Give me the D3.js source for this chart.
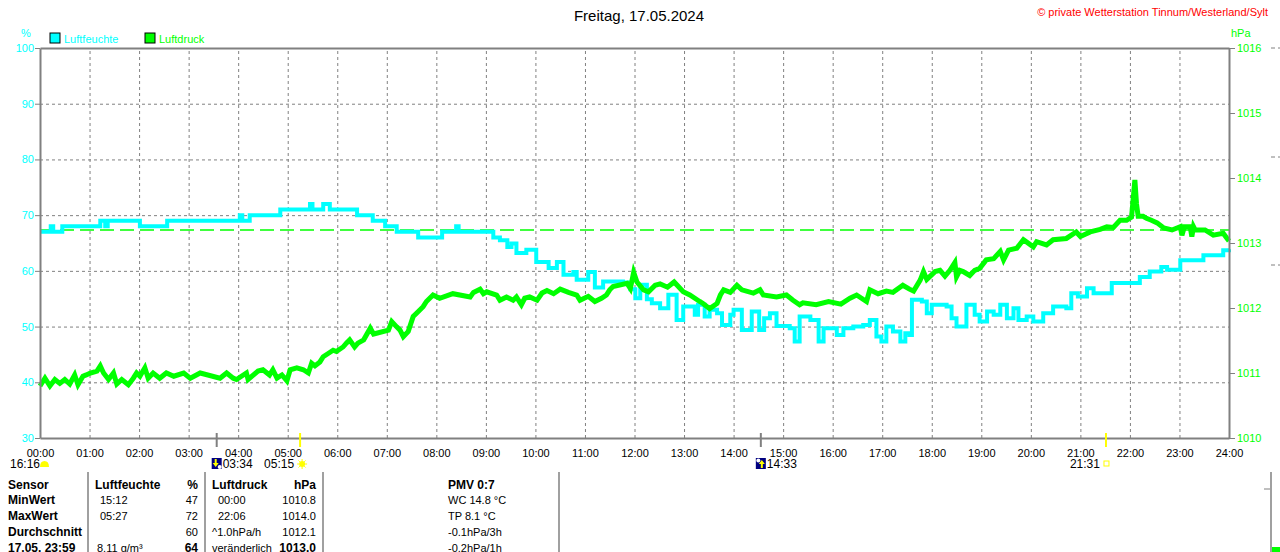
<!DOCTYPE html>
<html>
<head>
<meta charset="utf-8">
<script src="https://cdn.jsdelivr.net/npm/d3@7"></script>
<style>
body { margin: 0; background: #fff; }
svg { font-family: "Liberation Sans", Arial, sans-serif; display: block; }
.grid line { stroke: #808080; stroke-dasharray: 3,3; }
</style>
</head>
<body>
<div id="chart"></div>
<script>
// Luftfeuchte (%) - minutes since midnight / value
var humMinutes = [0, 13, 16, 27, 73, 79, 82, 121, 154, 242, 245, 254, 291, 327, 330, 343, 351, 384, 403, 418, 432, 458, 487, 504, 507, 549,
    557, 566, 571, 577, 589, 601, 616, 626, 634, 646, 650, 664, 672, 682, 706, 715, 721, 727, 735, 741, 751, 761, 771, 779, 793, 797,
    805, 811, 820, 826, 836, 840, 850, 862, 871, 877, 884, 892, 908, 914, 920, 933, 943, 949, 965, 973, 985, 997, 1005, 1013, 1019,
    1025, 1033, 1042, 1048, 1053, 1056, 1068, 1074, 1080, 1098, 1104, 1110, 1122, 1132, 1138, 1147, 1155, 1163, 1171, 1179, 1185,
    1195, 1203, 1215, 1227, 1243, 1249, 1257, 1268, 1276, 1298, 1332, 1344, 1358, 1365, 1381, 1409, 1433, 1440];
var humValues = [67, 68, 67, 68, 69, 68, 69, 68, 69, 70, 69, 70, 71, 72, 71, 72, 71, 70, 69, 68, 67, 66, 67, 68, 67, 66,
    65.5, 64.3, 64.9, 63.2, 63.8, 61.6, 60.5, 61.6, 59.3, 59.8, 58.4, 59.8, 57.0, 58.1, 57.9, 56.7, 55.1, 57.5, 54.9, 54.2, 53.3, 55.7, 51.2, 53.6, 52.1, 53.9,
    51.8, 53.0, 52.4, 50.3, 52.1, 53.0, 49.4, 52.7, 49.4, 51.5, 52.4, 50.1, 49.7, 47.3, 51.8, 51.2, 47.3, 49.7, 48.5, 49.7, 50.0, 50.3, 51.2, 48.2, 47.3,
    50.0, 49.1, 47.3, 48.8, 48.5, 54.8, 54.5, 52.4, 53.9, 53.6, 51.5, 50.0, 53.9, 52.1, 50.9, 52.7, 52.1, 53.9, 51.5, 53.3, 51.2,
    51.8, 50.9, 52.4, 53.6, 53.3, 56.0, 55.4, 56.9, 56.0, 57.8, 58.9, 59.9, 60.7, 60.2, 61.9, 62.8, 63.7, 63.9];

// Luftdruck (hPa)
var presMinutes = [0, 6, 12, 18, 24, 30, 36, 42, 46, 52, 56, 61, 69, 73, 77, 83, 89, 93, 99, 107, 113, 117, 121, 127, 131, 137, 145,
    153, 162, 174, 182, 194, 218, 226, 234, 238, 250, 252, 264, 270, 278, 282, 287, 293, 299, 303, 311, 319, 325, 329, 333, 339, 343,
    349, 355, 359, 367, 371, 375, 381, 385, 392, 400, 404, 422, 426, 432, 436, 440, 446, 452, 456, 464, 468, 476, 484,
    500, 521, 525, 533, 537, 541, 553, 557, 565, 573, 577, 583, 587, 593, 602, 608, 614, 622, 630, 640, 650, 654, 664, 672, 680, 686,
    690, 694, 711, 715, 719, 723, 731, 737, 745, 751, 760, 768, 779, 787, 799, 803, 811, 820, 824, 828, 836, 844, 850, 864, 872, 876,
    892, 904, 912, 920, 924, 940, 955, 970, 981, 989,
    1001, 1005, 1015, 1025, 1033, 1045, 1053, 1058, 1066, 1070, 1074, 1084, 1090, 1096, 1102, 1108, 1110, 1114, 1118, 1126, 1132,
    1138, 1146, 1155, 1163, 1167, 1173, 1183, 1191, 1203, 1207, 1219, 1227, 1243, 1255, 1260, 1272, 1284, 1292, 1300, 1308, 1316,
    1322, 1326, 1328, 1330, 1336, 1340, 1346, 1353, 1361, 1371, 1381, 1383, 1386, 1393, 1395, 1397, 1399, 1411, 1421, 1433, 1437, 1440];
var presValues = [1010.80, 1010.92, 1010.80, 1010.90, 1010.84, 1010.90, 1010.83, 1010.97, 1010.82, 1010.95, 1010.97, 1011.00, 1011.03, 1011.11, 1011.00, 1010.90, 1011.00, 1010.83, 1010.90, 1010.82, 1010.92, 1011.00, 1010.95, 1011.08, 1010.92, 1011.00, 1010.92,
    1011.00, 1010.95, 1011.00, 1010.92, 1011.00, 1010.92, 1011.00, 1010.92, 1010.90, 1011.00, 1010.90, 1011.03, 1011.05, 1010.97, 1011.05, 1010.92, 1010.97, 1010.88, 1011.05, 1011.08, 1011.05, 1011.00, 1011.15, 1011.11, 1011.17, 1011.25,
    1011.30, 1011.35, 1011.33, 1011.40, 1011.46, 1011.51, 1011.40, 1011.46, 1011.51, 1011.69, 1011.60, 1011.66, 1011.79, 1011.71, 1011.66, 1011.56, 1011.64, 1011.87, 1011.92, 1012.02, 1012.10, 1012.20, 1012.15,
    1012.22, 1012.17, 1012.24, 1012.29, 1012.22, 1012.25, 1012.20, 1012.12, 1012.17, 1012.12, 1012.17, 1012.05, 1012.15, 1012.17, 1012.12, 1012.23, 1012.27, 1012.22, 1012.29, 1012.24, 1012.20, 1012.12, 1012.18, 1012.10, 1012.15, 1012.20,
    1012.28, 1012.33, 1012.38, 1012.30, 1012.55, 1012.40, 1012.28, 1012.25, 1012.35, 1012.37, 1012.32, 1012.40, 1012.25, 1012.20, 1012.10, 1012.07, 1011.99, 1012.07, 1012.20, 1012.28, 1012.24, 1012.35, 1012.28, 1012.23, 1012.28, 1012.20,
    1012.17, 1012.20, 1012.12, 1012.05, 1012.08, 1012.05, 1012.10, 1012.06, 1012.15, 1012.20,
    1012.10, 1012.28, 1012.22, 1012.26, 1012.24, 1012.35, 1012.29, 1012.26, 1012.43, 1012.56, 1012.44, 1012.56, 1012.58, 1012.49, 1012.58, 1012.70, 1012.48, 1012.58, 1012.56, 1012.50, 1012.58,
    1012.61, 1012.74, 1012.76, 1012.87, 1012.74, 1012.89, 1012.92, 1013.05, 1012.94, 1013.02, 1012.97, 1013.05, 1013.07, 1013.17, 1013.10, 1013.17, 1013.21, 1013.25, 1013.24, 1013.35, 1013.35,
    1013.40, 1013.97, 1013.60, 1013.41, 1013.41, 1013.38, 1013.35, 1013.31, 1013.23, 1013.20, 1013.25, 1013.12, 1013.25, 1013.25, 1013.10, 1013.25, 1013.20, 1013.20, 1013.12, 1013.15, 1013.08, 1013.03];

var presRef = 1013.2;
var humTicks = [30, 40, 50, 60, 70, 80, 90, 100];
var presTicks = [1010, 1011, 1012, 1013, 1014, 1015, 1016];
var hourTicks = d3.range(0, 25).map(h => h * 60);

// Sonne / Mond
var astroTimes = ['03:34', '05:15', '14:33', '21:31'];
var astroKinds = ['moonrise', 'sunrise', 'moonset', 'sunset'];
var sunshine = '16:16';

// Tabelle unten
var colSensor = ['Sensor', 'MinWert', 'MaxWert', 'Durchschnitt', '17.05. 23:59'];
var colHumInfo = ['Luftfeuchte', '15:12', '05:27', '', '8.11 g/m³'];
var colHumVal = ['%', '47', '72', '60', '64'];
var colPresInfo = ['Luftdruck', '00:00', '22:06', '^1.0hPa/h', 'veränderlich'];
var colPresVal = ['hPa', '1010.8', '1014.0', '1012.1', '1013.0'];
var colExtra = ['PMV 0:7', 'WC 14.8 °C', 'TP 8.1 °C', '-0.1hPa/3h', '-0.2hPa/1h'];

var cyan = '#00ffff', green = '#00ff00', grey = '#808080';
var width = 1280, height = 552;
var plot = {left: 40, right: 1229, top: 48, bottom: 438};

var svg = d3.select('#chart').append('svg')
    .attr('width', width)
    .attr('height', height);

var x = d3.scaleLinear().domain([0, 1440]).range([plot.left, plot.right]);
var yHum = d3.scaleLinear().domain([30, 100]).range([plot.bottom, plot.top]);
var yPres = d3.scaleLinear().domain([1010, 1016]).range([plot.bottom, plot.top]);

function toMin(s) {
    var p = s.split(':');
    return +p[0] * 60 + +p[1];
}

// gridlines
svg.append('g').attr('class', 'grid')
    .attr('transform', `translate(0, ${plot.bottom})`)
    .call(d3.axisBottom(x).tickValues(hourTicks.slice(1, -1)).tickSize(-(plot.bottom - plot.top)).tickFormat(''))
    .call(g => g.select('.domain').remove());

svg.append('g').attr('class', 'grid')
    .attr('transform', `translate(${plot.left}, 0)`)
    .call(d3.axisLeft(yHum).tickValues(humTicks.slice(1, -1)).tickSize(-(plot.right - plot.left)).tickFormat(''))
    .call(g => g.select('.domain').remove());

// reference pressure
svg.append('line')
    .attr('x1', plot.left).attr('x2', plot.right)
    .attr('y1', yPres(presRef)).attr('y2', yPres(presRef))
    .attr('stroke', green).attr('stroke-width', 1.5)
    .attr('stroke-dasharray', '14,6');

// series
var humData = humMinutes.map((t, i) => ({t: t, v: humValues[i]}));
var presData = presMinutes.map((t, i) => ({t: t, v: presValues[i]}));

svg.append('path')
    .datum(humData)
    .attr('fill', 'none')
    .attr('stroke', cyan)
    .attr('stroke-width', 4)
    .attr('d', d3.line().x(d => x(d.t)).y(d => yHum(d.v)).curve(d3.curveStepAfter));

svg.append('path')
    .datum(presData)
    .attr('fill', 'none')
    .attr('stroke', green)
    .attr('stroke-width', 5)
    .attr('stroke-linejoin', 'miter')
    .attr('d', d3.line().x(d => x(d.t)).y(d => yPres(d.v)));

// axes
function styleAxis(g, color) {
    g.select('.domain').attr('stroke', grey).attr('stroke-width', 2);
    g.selectAll('.tick line').attr('stroke', grey);
    g.selectAll('.tick text').attr('fill', color).style('font-size', '11px')
        .style('font-family', '"Liberation Sans", Arial, sans-serif');
}

svg.append('g')
    .attr('transform', `translate(${plot.left}, 0)`)
    .call(d3.axisLeft(yHum).tickValues(humTicks).tickSize(5).tickSizeOuter(0).tickPadding(1))
    .call(g => styleAxis(g, cyan));

svg.append('g')
    .attr('transform', `translate(${plot.right}, 0)`)
    .call(d3.axisRight(yPres).tickValues(presTicks).tickSize(6).tickSizeOuter(0).tickPadding(2).tickFormat(d3.format('d')))
    .call(g => styleAxis(g, green));

svg.append('g')
    .attr('transform', `translate(0, ${plot.bottom})`)
    .call(d3.axisBottom(x).tickValues(hourTicks).tickSize(0).tickPadding(11)
        .tickFormat(d => d3.format('02d')(d / 60) + ':00'))
    .call(g => styleAxis(g, '#000'));

svg.append('g')
    .attr('transform', `translate(0, ${plot.top})`)
    .call(d3.axisTop(x).tickValues([]).tickSizeOuter(0))
    .call(g => styleAxis(g, '#000'));

// title, copyright, units
svg.append('text').attr('x', 639).attr('y', 21).attr('text-anchor', 'middle')
    .style('font-size', '15px').text('Freitag, 17.05.2024');
svg.append('text').attr('x', 1268).attr('y', 16).attr('text-anchor', 'end')
    .attr('fill', '#ff0000').style('font-size', '11px')
    .text('© private Wetterstation Tinnum/Westerland/Sylt');
svg.append('text').attr('x', 26).attr('y', 37).attr('text-anchor', 'middle')
    .attr('fill', cyan).style('font-size', '11px').text('%');
svg.append('text').attr('x', 1231).attr('y', 37)
    .attr('fill', green).style('font-size', '11px').text('hPa');

// legend
var legend = [{name: 'Luftfeuchte', color: cyan, x: 50}, {name: 'Luftdruck', color: green, x: 145}];
var lg = svg.selectAll('.legend').data(legend).enter().append('g')
    .attr('transform', d => `translate(${d.x}, 33)`);
lg.append('rect').attr('width', 10).attr('height', 10)
    .attr('fill', d => d.color).attr('stroke', '#000').attr('stroke-width', 1);
lg.append('text').attr('x', 14).attr('y', 9.5)
    .attr('fill', d => d.color).style('font-size', '11px').text(d => d.name);

// stray ticks of the neighbouring chart
[48, 157, 265].forEach(function(yy) {
    svg.append('line').attr('x1', 1271).attr('x2', 1280).attr('y1', yy).attr('y2', yy)
        .attr('stroke', grey).attr('stroke-dasharray', '4,3');
});

// sun and moon events
var astro = svg.append('g');
astroTimes.forEach(function(t, i) {
    var kind = astroKinds[i];
    var xx = x(toMin(t));
    var isSun = kind.indexOf('sun') === 0;
    astro.append('line').attr('x1', xx).attr('x2', xx).attr('y1', 433).attr('y2', 447)
        .attr('stroke', isSun ? '#ffff00' : grey).attr('stroke-width', 2);
    if (kind === 'sunrise') {
        var sun = astro.append('g').attr('transform', `translate(${xx + 2}, 464)`);
        sun.selectAll('line').data(d3.range(8)).enter().append('line')
            .attr('x1', d => Math.cos(d * Math.PI / 4) * 3).attr('y1', d => Math.sin(d * Math.PI / 4) * 3)
            .attr('x2', d => Math.cos(d * Math.PI / 4) * 5).attr('y2', d => Math.sin(d * Math.PI / 4) * 5)
            .attr('stroke', '#ffff00').attr('stroke-width', 1);
        sun.append('circle').attr('r', 3).attr('fill', '#ffff00');
        astro.append('text').attr('x', xx - 6).attr('y', 468).attr('text-anchor', 'end')
            .style('font-size', '12px').text(t);
    } else if (kind === 'sunset') {
        astro.append('rect').attr('x', xx - 2).attr('y', 461).attr('width', 5).attr('height', 5)
            .attr('fill', 'none').attr('stroke', '#ffff00').attr('stroke-width', 1);
        astro.append('text').attr('x', xx - 6).attr('y', 468).attr('text-anchor', 'end')
            .style('font-size', '12px').text(t);
    } else {
        var mg = astro.append('g').attr('transform', `translate(${xx - 5}, 458)`);
        mg.append('rect').attr('width', 10).attr('height', 11).attr('fill', '#000080');
        if (kind === 'moonrise') {
            mg.append('path').attr('d', 'M3,1 L3,5 L1,5 L4,9 L7,5 L5,5 L5,1 Z').attr('fill', '#ffff00');
            mg.append('circle').attr('cx', 8).attr('cy', 9).attr('r', 2).attr('fill', '#fff');
        } else {
            mg.append('circle').attr('cx', 2.5).attr('cy', 2.5).attr('r', 2).attr('fill', '#fff');
            mg.append('path').attr('d', 'M5,10 L5,6 L3,6 L6,2 L9,6 L7,6 L7,10 Z').attr('fill', '#ffff00');
        }
        astro.append('text').attr('x', xx + 6).attr('y', 468)
            .style('font-size', '12px').text(t);
    }
});

// sunshine duration
svg.append('text').attr('x', 10).attr('y', 468).style('font-size', '12px').text(sunshine);
svg.append('path').attr('d', 'M40,467 Q40,461 44.5,461 Q49,461 49,467 Z').attr('fill', '#ffff00');

// table
[88, 205, 323, 559, 1271].forEach(function(xx) {
    svg.append('line').attr('x1', xx).attr('x2', xx).attr('y1', 472).attr('y2', 552)
        .attr('stroke', grey).attr('stroke-width', 1.5);
});
svg.append('line').attr('x1', 1264).attr('x2', 1270).attr('y1', 489).attr('y2', 489).attr('stroke', grey);
svg.append('rect').attr('x', 1272).attr('y', 547).attr('width', 8).attr('height', 5).attr('fill', green);

var rowY = d3.range(5).map(i => 488.5 + i * 15.8);
var table = svg.append('g');

function cell(txt, xx, yy, bold, anchor) {
    table.append('text').attr('x', xx).attr('y', yy)
        .attr('text-anchor', anchor || 'start')
        .style('font-size', bold ? '12px' : '11px')
        .style('font-weight', bold ? 'bold' : 'normal')
        .text(txt);
}

rowY.forEach(function(yy, i) {
    var head = i === 0, last = i === rowY.length - 1;
    cell(colSensor[i], 8, yy, true);
    cell(colHumInfo[i], head ? 95 : (last ? 97 : 100), yy, head);
    cell(colHumVal[i], 198, yy, head || last, 'end');
    cell(colPresInfo[i], (i === 1 || i === 2) ? 218 : 212, yy, head);
    cell(colPresVal[i], 316, yy, head || last, 'end');
    cell(colExtra[i], 448, yy, head);
});
</script>
</body>
</html>
